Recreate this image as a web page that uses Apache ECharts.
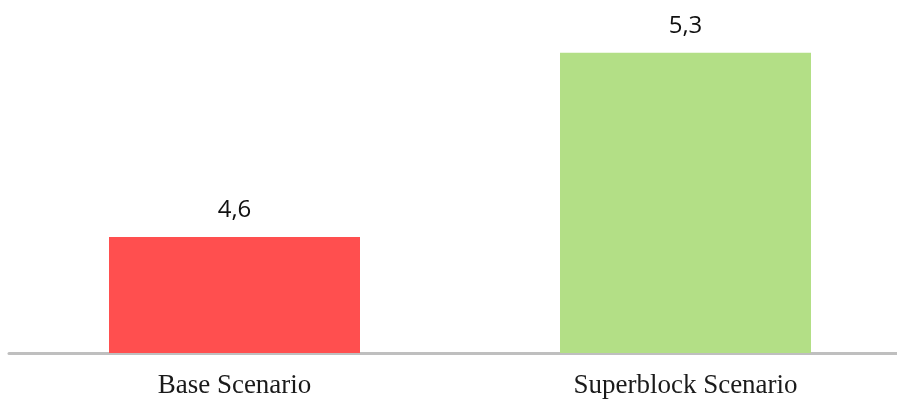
<!DOCTYPE html>
<html>
<head>
<meta charset="utf-8">
<script src="https://cdn.jsdelivr.net/npm/echarts@6/dist/echarts.min.js"></script>
<style>html,body{margin:0;padding:0;background:#fff;}#c{width:897px;height:401px;}</style>
</head>
<body>
<div id="c"></div>
<script>
const categories = ['Base Scenario', 'Superblock Scenario'];
const values = [4.6, 5.3];
const barColors = ['#ff4f4f', '#b3df86'];

const chart = echarts.init(document.getElementById('c'));
chart.setOption({
  animation: false,
  grid: { left: 9, right: -14, top: 0, bottom: 48, containLabel: false, outerBoundsMode: 'none' },
  xAxis: {
    type: 'category',
    data: categories,
    axisLine: { show: true, lineStyle: { color: '#bfbfbf', width: 3 } },
    axisTick: { show: false },
    axisLabel: { fontFamily: 'Liberation Serif', fontSize: 27, color: '#1a1a1a', margin: 19 }
  },
  yAxis: {
    type: 'value', min: 4.16, max: 5.5, show: false,
    splitLine: { show: false }
  },
  series: [{
    type: 'bar',
    barWidth: 251,
    data: values.map((v, i) => ({ value: v, itemStyle: { color: barColors[i] } })),
    label: {
      show: true, position: 'top', distance: 15,
      fontFamily: 'Open Sans', fontSize: 24, color: '#111',
      formatter: p => String(p.value).replace('.', ',')
    }
  }]
});
</script>
</body>
</html>
